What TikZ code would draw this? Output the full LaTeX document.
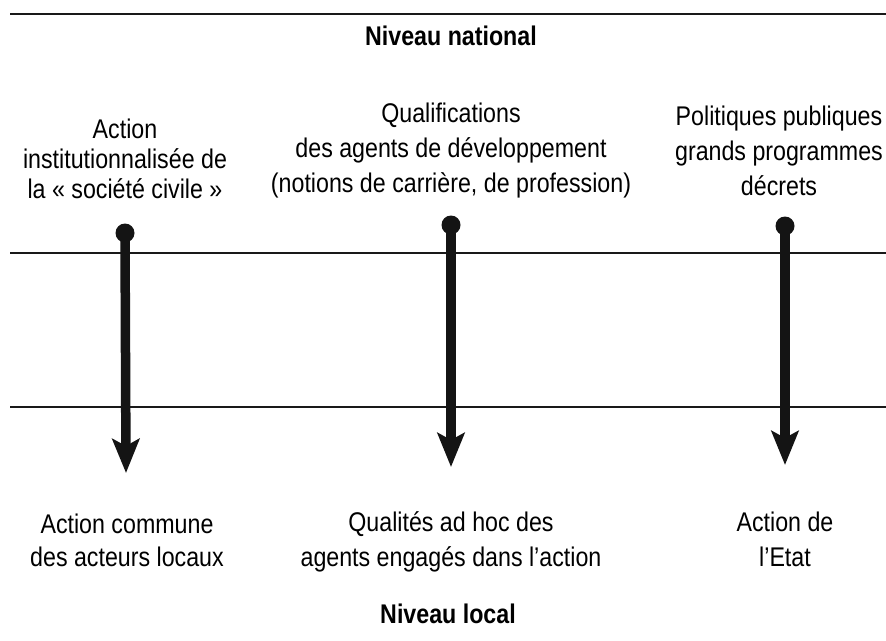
\documentclass[tikz,border=0pt]{standalone}
\usepackage{fontspec}
\setmainfont{Liberation Sans}[FakeStretch=0.86]
\usetikzlibrary{arrows.meta}
\begin{document}
\begin{tikzpicture}[x=1pt,y=-1pt,
  rule/.style={line width=2pt,draw=black!90},
  lbl/.style={align=center,inner sep=0pt,font=\fontsize{27}{35}\selectfont},
  lvl/.style={inner sep=0pt,font=\fontsize{27}{35}\selectfont\bfseries},
  dotnode/.style={circle,fill=black!92,minimum size=19pt,inner sep=0pt},
  arr/.style={line width=9.5pt,draw=black!92,-{Stealth[length=34pt,width=27pt,inset=7pt]}}]
\useasboundingbox (0,0) rectangle (886,640);
% horizontal rules
\coordinate (r1a) at (10,14);  \coordinate (r1b) at (886,14);
\coordinate (r2a) at (10,253); \coordinate (r2b) at (886,253);
\coordinate (r3a) at (10,407); \coordinate (r3b) at (886,407);
\draw[rule] (r1a) -- (r1b);
\draw[rule] (r2a) -- (r2b);
\draw[rule] (r3a) -- (r3b);
% level labels
\node[lvl] (nat) at (451,36) {Niveau national};
\node[lvl] (loc) at (448,614) {Niveau local};
% top labels
\node[lbl,font=\fontsize{27}{30}\selectfont] (t1) at (125,159) {Action\\institutionnalisée de\\la « société civile »};
\node[lbl] (t2) at (451,151) {Qualifications\\des agents de développement\\(notions de carrière, de profession)};
\node[lbl] (t3) at (779,151) {Politiques publiques\\grands programmes\\décrets};
% bottom labels
\node[lbl,font=\fontsize{27}{33}\selectfont] (b1) at (127,540) {Action commune\\des acteurs locaux};
\node[lbl] (b2) at (451,542) {Qualités ad hoc des\\agents engagés dans l’action};
\node[lbl] (b3) at (785,539) {Action de\\l’Etat};
% arrows
\node[dotnode] (s1) at (125,233) {};
\node[dotnode] (s2) at (451,225) {};
\node[dotnode] (s3) at (785,226) {};
\coordinate (e1) at (126,473);
\coordinate (e2) at (451,467);
\coordinate (e3) at (785,465);
\draw[arr] (s1.center) -- (e1);
\draw[arr] (s2.center) -- (e2);
\draw[arr] (s3.center) -- (e3);
\end{tikzpicture}
\end{document}
